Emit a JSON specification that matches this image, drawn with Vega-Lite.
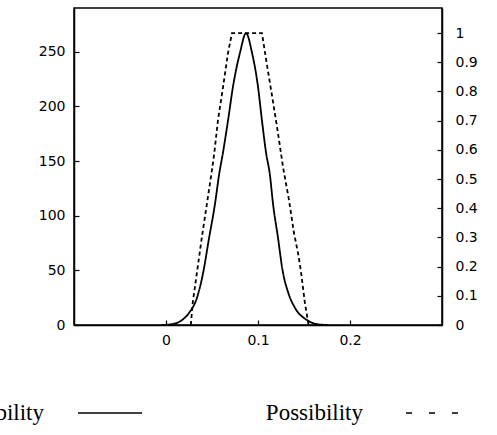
{
  "$schema": "https://vega.github.io/schema/vega-lite/v6.json",
  "width": 368,
  "height": 317,
  "autosize": {"type": "none"},
  "padding": {"left": 74, "top": 8, "right": 55, "bottom": 110},
  "background": "white",
  "config": {
    "view": {"stroke": "black", "strokeWidth": 1.5},
    "axis": {
      "grid": false,
      "domainColor": "black",
      "domainWidth": 1.5,
      "tickColor": "black",
      "tickWidth": 1.2,
      "tickSize": -5,
      "labelColor": "black",
      "labelFont": "DejaVu Sans",
      "labelFontSize": 14,
      "title": null
    }
  },
  "datasets": {
    "prob": [
      {"series": "Probability", "x": -0.005, "y": 0},
      {"series": "Probability", "x": 0.008, "y": 1},
      {"series": "Probability", "x": 0.0174, "y": 4.5},
      {"series": "Probability", "x": 0.025, "y": 11},
      {"series": "Probability", "x": 0.0337, "y": 25},
      {"series": "Probability", "x": 0.0402, "y": 47},
      {"series": "Probability", "x": 0.0467, "y": 79},
      {"series": "Probability", "x": 0.0533, "y": 111},
      {"series": "Probability", "x": 0.0576, "y": 137},
      {"series": "Probability", "x": 0.062, "y": 158},
      {"series": "Probability", "x": 0.0674, "y": 187},
      {"series": "Probability", "x": 0.0728, "y": 218},
      {"series": "Probability", "x": 0.0804, "y": 249},
      {"series": "Probability", "x": 0.087, "y": 267},
      {"series": "Probability", "x": 0.0935, "y": 249},
      {"series": "Probability", "x": 0.1, "y": 218},
      {"series": "Probability", "x": 0.1043, "y": 187},
      {"series": "Probability", "x": 0.1087, "y": 158},
      {"series": "Probability", "x": 0.113, "y": 137},
      {"series": "Probability", "x": 0.1163, "y": 111},
      {"series": "Probability", "x": 0.1217, "y": 80},
      {"series": "Probability", "x": 0.1265, "y": 51},
      {"series": "Probability", "x": 0.1335, "y": 28},
      {"series": "Probability", "x": 0.14, "y": 16},
      {"series": "Probability", "x": 0.1533, "y": 4.5},
      {"series": "Probability", "x": 0.164, "y": 0.8},
      {"series": "Probability", "x": 0.176, "y": 0}
    ],
    "poss": [
      {"series": "Possibility", "x": 0.027, "y": 0},
      {"series": "Possibility", "x": 0.029, "y": 0.075},
      {"series": "Possibility", "x": 0.034, "y": 0.188},
      {"series": "Possibility", "x": 0.039, "y": 0.301},
      {"series": "Possibility", "x": 0.0446, "y": 0.418},
      {"series": "Possibility", "x": 0.0495, "y": 0.521},
      {"series": "Possibility", "x": 0.0525, "y": 0.589},
      {"series": "Possibility", "x": 0.0565, "y": 0.702},
      {"series": "Possibility", "x": 0.062, "y": 0.815},
      {"series": "Possibility", "x": 0.0674, "y": 0.932},
      {"series": "Possibility", "x": 0.0717, "y": 1},
      {"series": "Possibility", "x": 0.1043, "y": 1},
      {"series": "Possibility", "x": 0.11, "y": 0.886},
      {"series": "Possibility", "x": 0.116, "y": 0.771},
      {"series": "Possibility", "x": 0.1217, "y": 0.658},
      {"series": "Possibility", "x": 0.1272, "y": 0.541},
      {"series": "Possibility", "x": 0.1337, "y": 0.428},
      {"series": "Possibility", "x": 0.1391, "y": 0.315},
      {"series": "Possibility", "x": 0.1435, "y": 0.247},
      {"series": "Possibility", "x": 0.1465, "y": 0.188},
      {"series": "Possibility", "x": 0.151, "y": 0.075},
      {"series": "Possibility", "x": 0.155, "y": 0}
    ]
  },
  "layer": [
    {
      "data": {"name": "prob"},
      "mark": {"type": "line", "color": "black", "strokeWidth": 1.8, "interpolate": "monotone"},
      "encoding": {
        "x": {
          "field": "x", "type": "quantitative",
          "scale": {"domain": [-0.1, 0.3], "nice": false, "zero": false},
          "axis": {"values": [0, 0.1, 0.2], "format": "~g", "labelPadding": 13, "orient": "bottom"}
        },
        "y": {
          "field": "y", "type": "quantitative",
          "scale": {"domain": [0, 290], "nice": false},
          "axis": {"orient": "left", "values": [0, 50, 100, 150, 200, 250], "format": "d", "labelPadding": 14}
        },
        "strokeDash": {
          "field": "series", "type": "nominal",
          "scale": {"domain": ["Probability", "Possibility"], "range": [[1, 0], [6, 17]]},
          "legend": {
            "orient": "none",
            "legendX": 3,
            "legendY": 372,
            "direction": "horizontal",
            "title": null,
            "symbolType": "stroke",
            "symbolSize": 4096,
            "symbolStrokeWidth": 1.5,
            "symbolStrokeColor": "black",
            "labelFont": "Liberation Serif",
            "labelFontSize": 23,
            "labelColor": "black",
            "labelAlign": "right",
            "labelOffset": -99,
            "labelLimit": 300,
            "columnPadding": 120,
            "encode": {
              "labels": {"update": {"dx": [{"test": "datum.value == 'Possibility'", "value": -9}, {"value": 0}]}}
            }
          }
        }
      }
    },
    {
      "data": {"name": "poss"},
      "mark": {"type": "line", "color": "black", "strokeWidth": 1.8, "interpolate": "linear", "strokeDash": [4, 3]},
      "encoding": {
        "x": {"field": "x", "type": "quantitative"},
        "y": {
          "field": "y", "type": "quantitative",
          "scale": {"domain": [0, 1.086], "nice": false},
          "axis": {"orient": "right", "values": [0, 0.1, 0.2, 0.3, 0.4, 0.5, 0.6, 0.7, 0.8, 0.9, 1], "format": "~g", "labelPadding": 18}
        }
      }
    }
  ],
  "resolve": {"scale": {"y": "independent"}}
}
